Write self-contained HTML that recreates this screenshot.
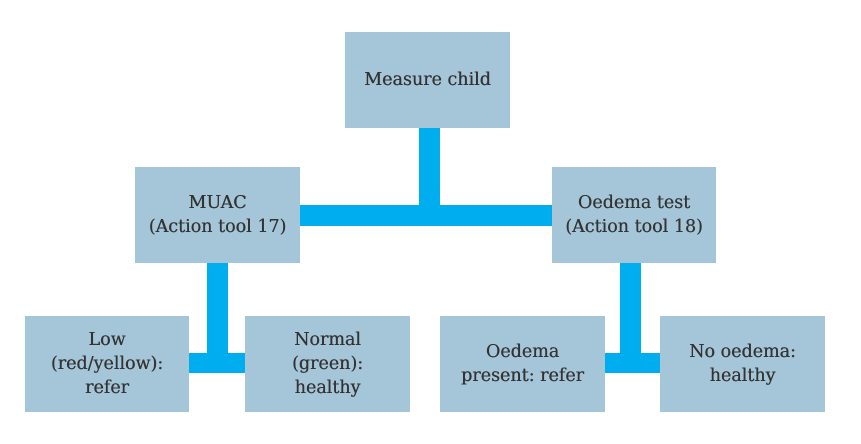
<!DOCTYPE html>
<html><head><style>
body{margin:0;width:861px;height:444px;background:#fff;position:relative;overflow:hidden;font-family:"DejaVu Serif","Liberation Serif",serif;}
.b{position:absolute;background:#a5c6d9;color:#333;font-size:17.5px;line-height:24px;display:flex;align-items:center;justify-content:center;text-align:center;text-shadow:0.3px 0 0 #333;}
.c{position:absolute;background:#00aeef;}
</style></head><body>
<div class="c" style="left:419px;top:128px;width:21px;height:90px"></div>
<div class="c" style="left:300px;top:205px;width:252px;height:21px"></div>
<div class="c" style="left:207px;top:263px;width:21px;height:110px"></div>
<div class="c" style="left:189px;top:353px;width:56px;height:20px"></div>
<div class="c" style="left:620px;top:263px;width:21px;height:110px"></div>
<div class="c" style="left:605px;top:353px;width:55px;height:20px"></div>
<div class="b" style="left:345px;top:32px;width:165px;height:96px">Measure child</div>
<div class="b" style="left:135px;top:167px;width:165px;height:96px">MUAC<br>(Action tool 17)</div>
<div class="b" style="left:552px;top:167px;width:164px;height:96px">Oedema test<br>(Action tool 18)</div>
<div class="b" style="left:25px;top:316px;width:164px;height:96px">Low<br>(red/yellow):<br>refer</div>
<div class="b" style="left:245px;top:316px;width:165px;height:96px">Normal<br>(green):<br>healthy</div>
<div class="b" style="left:440px;top:316px;width:165px;height:96px">Oedema<br>present: refer</div>
<div class="b" style="left:660px;top:316px;width:165px;height:96px">No oedema:<br>healthy</div>
</body></html>
